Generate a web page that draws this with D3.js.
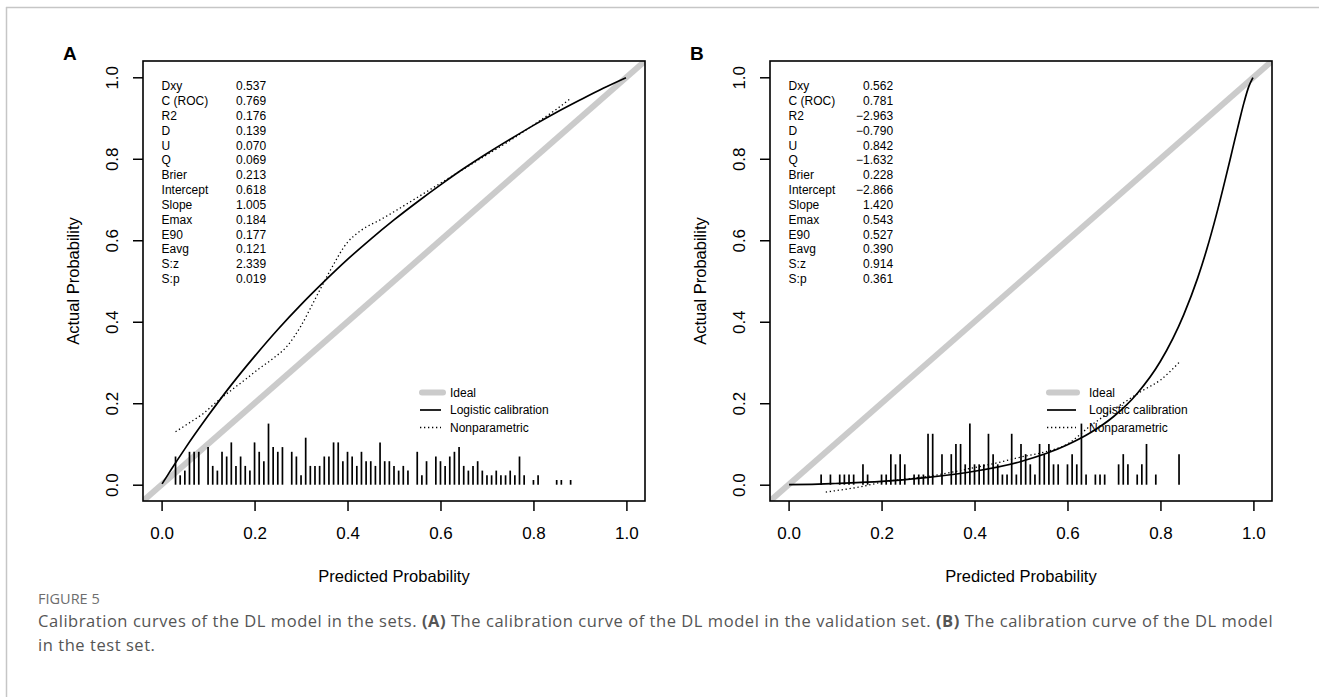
<!DOCTYPE html>
<html>
<head>
<meta charset="utf-8">
<script src="https://cdn.jsdelivr.net/npm/d3@7"></script>
<style>
  html, body { margin: 0; padding: 0; background: #ffffff; }
  svg { display: block; }
</style>
</head>
<body>
<svg id="chart" width="1319" height="697"></svg>
<script>
// ---------------- DATA ----------------
const statLabels = ["Dxy", "C (ROC)", "R2", "D", "U", "Q", "Brier", "Intercept", "Slope", "Emax", "E90", "Eavg", "S:z", "S:p"];
const statsA = ["0.537", "0.769", "0.176", "0.139", "0.070", "0.069", "0.213", "0.618", "1.005", "0.184", "0.177", "0.121", "2.339", "0.019"];
const statsB = ["0.562", "0.781", "\u22122.963", "\u22120.790", "0.842", "\u22121.632", "0.228", "\u22122.866", "1.420", "0.543", "0.527", "0.390", "0.914", "0.361"];

const xTicks = [0, 0.2, 0.4, 0.6, 0.8, 1.0];
const yTicks = [0, 0.2, 0.4, 0.6, 0.8, 1.0];
const legendLabels = ["Ideal", "Logistic calibration", "Nonparametric"];

// Panel A: logistic calibration curve
const logisticA_p = [0.001, 0.01, 0.02, 0.05, 0.1, 0.15, 0.2, 0.25, 0.3, 0.35, 0.4, 0.45, 0.5, 0.55, 0.6, 0.65, 0.7, 0.75, 0.8, 0.85, 0.9, 0.95, 0.999];
const logisticA_y = [0.002, 0.018, 0.036, 0.088, 0.169, 0.245, 0.315, 0.381, 0.442, 0.499, 0.553, 0.603, 0.650, 0.694, 0.736, 0.776, 0.813, 0.848, 0.882, 0.914, 0.944, 0.973, 0.999];
// Panel A: nonparametric curve
const nonparA_p = [0.03, 0.06, 0.09, 0.12, 0.15, 0.18, 0.21, 0.24, 0.27, 0.30, 0.33, 0.36, 0.40, 0.43, 0.47, 0.50, 0.55, 0.60, 0.65, 0.70, 0.75, 0.80, 0.85, 0.88];
const nonparA_y = [0.130, 0.152, 0.175, 0.205, 0.232, 0.258, 0.285, 0.310, 0.340, 0.390, 0.455, 0.520, 0.595, 0.625, 0.650, 0.670, 0.705, 0.740, 0.775, 0.810, 0.845, 0.883, 0.922, 0.948];
// Panel A: distribution of predicted probabilities (bins, counts)
const spikesA_p = [0.03, 0.04, 0.05, 0.06, 0.07, 0.08, 0.10, 0.11, 0.12, 0.13, 0.14, 0.15, 0.16, 0.17, 0.18, 0.19, 0.20, 0.21, 0.22, 0.23, 0.24, 0.25, 0.26, 0.28, 0.29, 0.30, 0.31, 0.32, 0.33, 0.34, 0.35, 0.36, 0.37, 0.38, 0.39, 0.40, 0.41, 0.42, 0.43, 0.44, 0.45, 0.46, 0.47, 0.48, 0.49, 0.50, 0.51, 0.52, 0.53, 0.55, 0.56, 0.57, 0.59, 0.60, 0.61, 0.62, 0.63, 0.64, 0.65, 0.66, 0.67, 0.68, 0.69, 0.70, 0.71, 0.72, 0.73, 0.74, 0.75, 0.76, 0.77, 0.78, 0.80, 0.81, 0.85, 0.86, 0.88];
const spikesA_n = [6, 2, 3, 7, 7, 7, 8, 4, 3, 7, 6, 9, 4, 6, 4, 3, 9, 7, 5, 13, 8, 7, 8, 7, 6, 2, 10, 4, 4, 4, 6, 6, 9, 9, 5, 7, 6, 4, 7, 5, 5, 4, 9, 5, 5, 4, 3, 4, 3, 7, 2, 5, 6, 5, 4, 6, 7, 8, 4, 3, 4, 5, 3, 2, 2, 3, 2, 2, 3, 2, 6, 2, 1, 2, 1, 1, 1];

// Panel B: logistic calibration curve
const logisticB_p = [0.001, 0.05, 0.1, 0.2, 0.3, 0.4, 0.5, 0.6, 0.65, 0.7, 0.75, 0.8, 0.85, 0.88, 0.9, 0.92, 0.94, 0.95, 0.96, 0.97, 0.98, 0.99, 0.999];
const logisticB_y = [0.000, 0.001, 0.003, 0.008, 0.018, 0.033, 0.057, 0.098, 0.128, 0.168, 0.224, 0.303, 0.417, 0.507, 0.579, 0.661, 0.752, 0.799, 0.847, 0.894, 0.939, 0.977, 0.999];
// Panel B: nonparametric curve
const nonparB_p = [0.08, 0.15, 0.21, 0.27, 0.33, 0.40, 0.45, 0.50, 0.55, 0.60, 0.65, 0.70, 0.73, 0.76, 0.80, 0.84];
const nonparB_y = [-0.018, -0.006, 0.008, 0.016, 0.026, 0.042, 0.054, 0.068, 0.080, 0.100, 0.145, 0.185, 0.208, 0.230, 0.257, 0.300];
// Panel B: distribution of predicted probabilities (bins, counts)
const spikesB_p = [0.07, 0.09, 0.11, 0.12, 0.13, 0.14, 0.16, 0.17, 0.20, 0.21, 0.22, 0.23, 0.24, 0.25, 0.27, 0.28, 0.29, 0.30, 0.31, 0.33, 0.35, 0.36, 0.37, 0.38, 0.39, 0.40, 0.41, 0.42, 0.43, 0.44, 0.45, 0.46, 0.47, 0.48, 0.49, 0.50, 0.51, 0.52, 0.53, 0.54, 0.55, 0.56, 0.57, 0.58, 0.60, 0.61, 0.62, 0.63, 0.64, 0.66, 0.67, 0.68, 0.71, 0.72, 0.73, 0.75, 0.76, 0.77, 0.79, 0.84];
const spikesB_n = [1, 1, 1, 1, 1, 1, 2, 1, 1, 1, 3, 2, 3, 2, 1, 1, 1, 5, 5, 3, 3, 4, 4, 2, 6, 2, 2, 2, 5, 3, 2, 1, 1, 5, 1, 4, 3, 2, 1, 4, 3, 4, 2, 2, 2, 3, 2, 6, 1, 1, 1, 1, 2, 3, 2, 1, 2, 4, 1, 3];

// ---------------- DRAW ----------------
const svg = d3.select("#chart");
const FONT = "'Liberation Sans', Arial, Helvetica, sans-serif";

// figure frame
svg.append("line").attr("x1", 6).attr("x2", 1319).attr("y1", 7.5).attr("y2", 7.5)
  .attr("stroke", "#c6c6c6").attr("stroke-width", 1.5);
svg.append("line").attr("x1", 6.5).attr("x2", 6.5).attr("y1", 7).attr("y2", 697)
  .attr("stroke", "#c6c6c6").attr("stroke-width", 1.5);

function drawPanel(cfg) {
  const g = svg.append("g");
  const x = d3.scaleLinear().domain([-0.04, 1.04]).range([cfg.left, cfg.right]);
  const y = d3.scaleLinear().domain([-0.04, 1.04]).range([cfg.bottom, cfg.top]);

  const clipId = "clip" + cfg.letter;
  svg.append("clipPath").attr("id", clipId).append("rect")
    .attr("x", cfg.left).attr("y", cfg.top)
    .attr("width", cfg.right - cfg.left).attr("height", cfg.bottom - cfg.top);

  // ideal line
  g.append("line")
    .attr("clip-path", `url(#${clipId})`)
    .attr("x1", x(-0.04)).attr("y1", y(-0.04))
    .attr("x2", x(1.04)).attr("y2", y(1.04))
    .attr("stroke", "#cbcbcb").attr("stroke-width", 6);

  // spikes
  const maxN = d3.max(cfg.spikesN);
  g.selectAll("line.spike").data(cfg.spikesP).join("line")
    .attr("class", "spike")
    .attr("x1", d => x(d)).attr("x2", d => x(d))
    .attr("y1", y(0))
    .attr("y2", (d, i) => y(0.15 * cfg.spikesN[i] / maxN))
    .attr("stroke", "#000").attr("stroke-width", 1.7);

  // logistic curve
  const line = d3.line().x(d => x(d[0])).y(d => y(d[1])).curve(d3.curveMonotoneX);
  g.append("path")
    .attr("d", line(cfg.logP.map((p, i) => [p, cfg.logY[i]])))
    .attr("fill", "none").attr("stroke", "#000").attr("stroke-width", 1.7);

  // nonparametric
  g.append("path")
    .attr("d", line(cfg.npP.map((p, i) => [p, cfg.npY[i]])))
    .attr("fill", "none").attr("stroke", "#000").attr("stroke-width", 1.3)
    .attr("stroke-dasharray", "1.3,2.7");

  // box
  g.append("rect")
    .attr("x", cfg.left).attr("y", cfg.top)
    .attr("width", cfg.right - cfg.left).attr("height", cfg.bottom - cfg.top)
    .attr("fill", "none").attr("stroke", "#000").attr("stroke-width", 1.6);

  // x axis
  const xa = g.append("g").attr("transform", `translate(0,${cfg.bottom})`)
    .call(d3.axisBottom(x).tickValues(xTicks).tickFormat(d3.format(".1f")).tickSize(10).tickSizeOuter(0).tickPadding(16));
  xa.select(".domain").remove();
  xa.selectAll(".tick line").attr("stroke", "#000").attr("stroke-width", 1.5);
  xa.selectAll(".tick text").attr("font-family", FONT).attr("font-size", 17).attr("fill", "#000");

  // y axis
  const ya = g.append("g").attr("transform", `translate(${cfg.left},0)`)
    .call(d3.axisLeft(y).tickValues(yTicks).tickFormat(d3.format(".1f")).tickSize(10).tickSizeOuter(0));
  ya.select(".domain").remove();
  ya.selectAll(".tick line").attr("stroke", "#000").attr("stroke-width", 1.5);
  ya.selectAll(".tick text")
    .attr("font-family", FONT).attr("font-size", 17).attr("fill", "#000")
    .attr("x", null).attr("dy", null)
    .attr("text-anchor", "middle")
    .attr("transform", "translate(-25,0) rotate(-90)");

  // axis titles
  g.append("text").attr("x", (cfg.left + cfg.right) / 2).attr("y", 582)
    .attr("text-anchor", "middle").attr("font-family", FONT).attr("font-size", 16.5)
    .text("Predicted Probability");
  g.append("text")
    .attr("transform", `translate(${cfg.left - 64},${(cfg.top + cfg.bottom) / 2}) rotate(-90)`)
    .attr("text-anchor", "middle").attr("font-family", FONT).attr("font-size", 16.5)
    .text("Actual Probability");

  // panel letter
  g.append("text").attr("x", cfg.letterX).attr("y", 60)
    .attr("font-family", FONT).attr("font-weight", "bold").attr("font-size", 19)
    .text(cfg.letter);

  // stats
  const st = g.append("g").attr("font-family", FONT).attr("font-size", 12).attr("fill", "#000");
  statLabels.forEach((lab, i) => {
    const yy = 90.3 + i * 14.82;
    st.append("text").attr("x", x(0)).attr("y", yy).text(lab);
    st.append("text").attr("x", x(0) + 104.5).attr("y", yy).attr("text-anchor", "end").text(cfg.stats[i]);
  });

  // legend
  const lg = g.append("g").attr("font-family", FONT).attr("font-size", 12);
  const rows = [392.5, 410, 427.5];
  lg.append("line").attr("x1", cfg.legLine[0]).attr("x2", cfg.legLine[1])
    .attr("y1", rows[0]).attr("y2", rows[0])
    .attr("stroke", "#cbcbcb").attr("stroke-width", 6).attr("stroke-linecap", "round");
  lg.append("line").attr("x1", cfg.legLine2[0]).attr("x2", cfg.legLine2[1])
    .attr("y1", rows[1]).attr("y2", rows[1])
    .attr("stroke", "#000").attr("stroke-width", 1.7);
  lg.append("line").attr("x1", cfg.legLine2[0]).attr("x2", cfg.legLine2[1])
    .attr("y1", rows[2]).attr("y2", rows[2])
    .attr("stroke", "#000").attr("stroke-width", 1.3).attr("stroke-dasharray", "1.3,2.7");
  legendLabels.forEach((t, i) => {
    lg.append("text").attr("x", cfg.legText).attr("y", rows[i] + 4.3).text(t);
  });
}

drawPanel({
  letter: "A", letterX: 63, left: 143, right: 645, top: 61, bottom: 501,
  stats: statsA, logP: logisticA_p, logY: logisticA_y, npP: nonparA_p, npY: nonparA_y,
  spikesP: spikesA_p, spikesN: spikesA_n,
  legLine: [422, 443], legLine2: [420, 441], legText: 450
});
drawPanel({
  letter: "B", letterX: 690, left: 770, right: 1272, top: 61, bottom: 501,
  stats: statsB, logP: logisticB_p, logY: logisticB_y, npP: nonparB_p, npY: nonparB_y,
  spikesP: spikesB_p, spikesN: spikesB_n,
  legLine: [1049, 1077], legLine2: [1047, 1076], legText: 1089
});

// caption
const CAP = "'Open Sans', 'Noto Sans', sans-serif";
svg.append("text").attr("x", 38).attr("y", 604)
  .attr("font-family", CAP).attr("font-size", 14.5).attr("fill", "#6d6d6d")
  .text("FIGURE 5");
const cap1 = svg.append("text").attr("x", 38).attr("y", 627)
  .attr("font-family", CAP).attr("font-size", 16.5).attr("letter-spacing", 0.55).attr("fill", "#555555");
cap1.append("tspan").text("Calibration curves of the DL model in the sets. ");
cap1.append("tspan").attr("font-weight", "bold").text("(A)");
cap1.append("tspan").text(" The calibration curve of the DL model in the validation set. ");
cap1.append("tspan").attr("font-weight", "bold").text("(B)");
cap1.append("tspan").text(" The calibration curve of the DL model");
svg.append("text").attr("x", 38).attr("y", 651)
  .attr("font-family", CAP).attr("font-size", 16.5).attr("letter-spacing", 0.55).attr("fill", "#555555")
  .text("in the test set.");
</script>
</body>
</html>
